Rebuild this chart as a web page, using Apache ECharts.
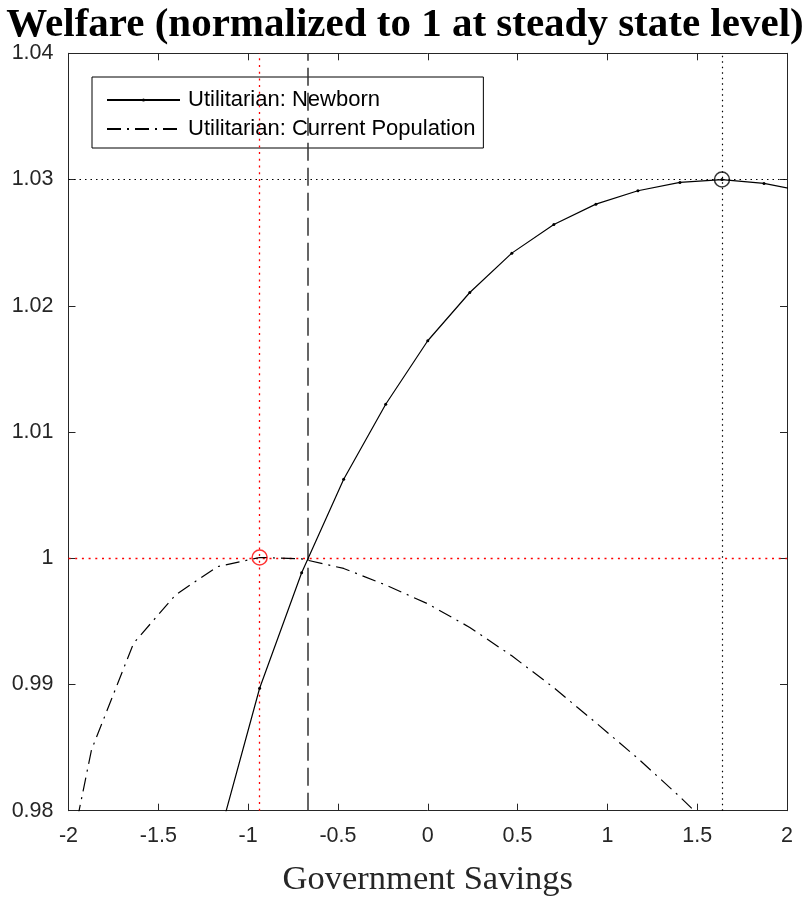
<!DOCTYPE html>
<html>
<head>
<meta charset="utf-8">
<script src="https://cdn.jsdelivr.net/npm/echarts@6/dist/echarts.min.js"></script>
<style>
html,body{margin:0;padding:0;background:#fff;}
#chart{width:810px;height:897px;}
</style>
</head>
<body>
<div id="chart"></div>
<script>
// Grid of government savings values (x)
const savingsGrid = [-2.106, -1.872, -1.638, -1.404, -1.170, -0.936, -0.702, -0.468, -0.234, 0, 0.234, 0.468, 0.702, 0.936, 1.170, 1.404, 1.638, 1.872, 2.106];
// Utilitarian welfare: newborn (null where far below the axis)
const newbornWelfare = [null, null, null, null, 0.9775, 0.98970, 0.99885, 1.00626, 1.01220, 1.01723, 1.02105, 1.02417, 1.02644, 1.02805, 1.02911, 1.02977, 1.03000, 1.02969, 1.02903];
// Utilitarian welfare: current population
const currentWelfare = [0.9685, 0.98482, 0.99326, 0.99710, 0.99934, 1.00006, 0.99995, 0.99919, 0.99788, 0.99639, 0.99452, 0.99227, 0.98974, 0.98697, 0.98414, 0.98110, 0.97785, 0.9744, 0.9709];
// Steady-state government savings (dashed vertical line)
const steadyStateX = -0.668;
// Axis ticks
const xTicks = {min: -2, max: 2, step: 0.5};
const yTicks = {min: 0.98, max: 1.04, step: 0.01};

const titleText = 'Welfare (normalized to 1 at steady state level)';
const xName = 'Government Savings';
const seriesNames = ['Utilitarian: Newborn', 'Utilitarian: Current Population'];

function argmax(arr) {
  let bi = -1, bv = -Infinity;
  arr.forEach((v, i) => { if (v != null && v > bv) { bv = v; bi = i; } });
  return bi;
}
const iN = argmax(newbornWelfare);
const iC = argmax(currentWelfare);
const newbornOpt = [savingsGrid[iN], newbornWelfare[iN]];
const currentOpt = [savingsGrid[iC], currentWelfare[iC]];

const pair = (xs, ys) => xs.map((x, i) => [x, ys[i]]);

const axisColor = '#262626';
const sans = 'Liberation Sans, Arial, Helvetica, sans-serif';
const serif = 'Liberation Serif, Times New Roman, serif';

const baseX = {
  type: 'value', min: xTicks.min, max: xTicks.max, interval: xTicks.step,
  axisLine: {show: true, onZero: false, lineStyle: {color: axisColor, width: 1}},
  axisTick: {show: true, inside: true, length: 7, lineStyle: {color: axisColor}},
  splitLine: {show: false}
};
const baseY = {
  type: 'value', min: yTicks.min, max: yTicks.max, interval: yTicks.step,
  axisLine: {show: true, onZero: false, lineStyle: {color: axisColor, width: 1}},
  axisTick: {show: true, inside: true, length: 7, lineStyle: {color: axisColor}},
  splitLine: {show: false}
};

const chart = echarts.init(document.getElementById('chart'));
chart.setOption({
  backgroundColor: '#fff',
  animation: false,
  title: {
    text: titleText, left: 'center', top: 0,
    textStyle: {fontFamily: serif, fontWeight: 'bold', fontSize: 41, color: '#000'}
  },
  grid: {left: 68.5, right: 23, top: 53.3, bottom: 86.3, containLabel: false, outerBoundsMode: 'none'},
  legend: {
    data: [
      {name: seriesNames[0]},
      {name: seriesNames[1], itemStyle: {opacity: 0}}
    ],
    orient: 'vertical', left: 92, top: 77,
    backgroundColor: '#fff', borderColor: '#000', borderWidth: 1,
    padding: [12, 8, 8, 14],
    itemWidth: 73, itemHeight: 4, itemGap: 7,
    textStyle: {fontFamily: sans, fontSize: 22, color: '#000', lineHeight: 20, padding: [0, 0, 0, 3]}
  },
  xAxis: [
    Object.assign({}, baseX, {
      position: 'bottom',
      axisLabel: {show: true, margin: 14, fontFamily: sans, fontSize: 21.5, color: axisColor},
      name: xName, nameLocation: 'middle', nameGap: 52,
      nameTextStyle: {fontFamily: serif, fontSize: 34.5, color: axisColor}
    }),
    Object.assign({}, baseX, {position: 'top', axisLabel: {show: false}})
  ],
  yAxis: [
    Object.assign({}, baseY, {
      position: 'left',
      axisLabel: {show: true, margin: 15, fontFamily: sans, fontSize: 21.5, color: axisColor}
    }),
    Object.assign({}, baseY, {position: 'right', axisLabel: {show: false}})
  ],
  series: [
    {
      name: seriesNames[0], type: 'line', data: pair(savingsGrid, newbornWelfare),
      connectNulls: false, clip: true,
      symbol: 'circle', symbolSize: 3, showSymbol: true,
      itemStyle: {color: '#000'},
      lineStyle: {color: '#000', width: 1.2, type: 'solid'},
      z: 5
    },
    {
      name: seriesNames[1], type: 'line', data: pair(savingsGrid, currentWelfare),
      clip: true, symbol: 'none', showSymbol: false,
      itemStyle: {color: '#000'},
      lineStyle: {color: '#000', width: 1.2, type: [14, 6, 2, 6]},
      z: 5
    },
    {
      name: 'refs', type: 'line', data: [], silent: true,
      markLine: {
        silent: true, symbol: 'none', label: {show: false}, animation: false,
        data: [
          {xAxis: currentOpt[0], lineStyle: {color: '#ff0000', width: 1.3, type: [2, 4.7]}},
          {yAxis: currentOpt[1], lineStyle: {color: '#ff0000', width: 1.3, type: [2, 4.7]}},
          {xAxis: newbornOpt[0], lineStyle: {color: '#000', width: 1.2, type: [1.5, 4]}},
          {yAxis: newbornOpt[1], lineStyle: {color: '#000', width: 1.2, type: [1.5, 4]}},
          {xAxis: steadyStateX, lineStyle: {color: '#333', width: 1.5, type: [18, 7]}}
        ]
      },
      z: 2
    },
    {
      name: 'optNewborn', type: 'scatter', data: [newbornOpt],
      symbol: 'circle', symbolSize: 15,
      itemStyle: {color: 'rgba(0,0,0,0)', borderColor: '#000', borderWidth: 1.5}, z: 6
    },
    {
      name: 'optCurrent', type: 'scatter', data: [currentOpt],
      symbol: 'circle', symbolSize: 15,
      itemStyle: {color: 'rgba(0,0,0,0)', borderColor: '#ff0000', borderWidth: 1.5}, z: 6
    }
  ]
});
</script>
</body>
</html>
